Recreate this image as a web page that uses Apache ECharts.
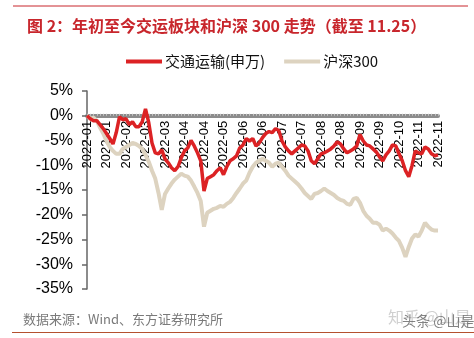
<!DOCTYPE html>
<html>
<head>
<meta charset="utf-8">
<script src="https://cdn.jsdelivr.net/npm/echarts@6/dist/echarts.min.js"></script>
<style>
  html, body { margin: 0; padding: 0; background: #fff; }
  #chart { width: 474px; height: 338px; }
</style>
</head>
<body>
<div id="chart"></div>
<script>
// Month tick labels, one for every 6 trading-day samples
const tickLabels = ['2022-01','2022-01','2022-02','2022-03','2022-03','2022-04','2022-04','2022-05',
  '2022-06','2022-06','2022-07','2022-07','2022-08','2022-08','2022-09','2022-09','2022-10','2022-11','2022-11'];
const step = 6;

// Cumulative return since year start (%)
const transport = [
  0, -0.6, -1.0, -1.0, -1.8, -2.6, -3.6, -4.6, -5.7, -3.4,
  -0.2, -0.8, -0.6, -1.8, -1.2, -2.2, -2.2, -1.2, 1.4, -1.4,
  -5.5, -7.5, -7.7, -6.9, -8.7, -9.5, -10.5, -11.1, -10.3, -8.5,
  -7.1, -6.5, -5.0, -6.1, -7.5, -9.1, -15.2, -12.7, -12.3, -11.9,
  -11.1, -10.5, -11.9, -10.3, -9.1, -8.7, -8.1, -6.5, -5.9, -4.6,
  -5.1, -4.6, -6.1, -5.5, -4.4, -3.6, -3.2, -3.4, -2.6, -3.0,
  -5.1, -6.3, -7.1, -7.7, -7.1, -6.5, -5.9, -6.1, -7.1, -9.1,
  -9.7, -8.7, -7.7, -7.5, -7.1, -6.7, -6.1, -5.3, -5.7, -6.7,
  -7.5, -7.1, -6.7, -6.1, -3.8, -5.1, -5.9, -6.1, -6.7, -7.3,
  -8.3, -9.1, -7.9, -7.1, -5.9, -6.1, -7.7, -9.1, -11.1, -12.3,
  -10.1, -7.1, -7.5, -7.7, -6.3, -6.7, -7.7, -8.1, -7.9
];
const hs300 = [
  0, -0.6, -0.4, -1.0, -2.4, -3.6, -5.1, -6.3, -7.1, -7.7,
  -7.7, -6.7, -6.3, -5.9, -5.5, -5.7, -6.1, -6.7, -7.9, -9.3,
  -11.1, -12.7, -15.6, -19.0, -15.8, -14.7, -13.7, -12.9, -12.3, -11.7,
  -12.1, -12.3, -13.1, -14.3, -15.6, -17.2, -22.4, -19.6, -19.2, -18.8,
  -18.6, -18.2, -18.4, -17.8, -17.4, -16.6, -15.6, -14.7, -13.7, -13.1,
  -11.5, -10.3, -9.5, -9.1, -8.7, -9.1, -9.5, -10.3, -9.7, -9.5,
  -10.3, -11.1, -12.1, -12.7, -13.3, -13.9, -14.7, -15.6, -16.2, -16.8,
  -15.8, -15.6, -15.2, -14.7, -15.2, -15.6, -16.0, -16.6, -17.0, -17.2,
  -17.8, -18.0, -16.8, -16.6, -17.6, -19.2, -20.2, -20.8, -21.6, -21.6,
  -22.0, -23.2, -22.8, -23.2, -23.8, -24.6, -25.3, -26.7, -28.5, -26.5,
  -24.8, -24.0, -24.4, -23.2, -21.6, -22.4, -23.0, -23.2, -23.2
];

const categories = transport.map((_, i) => tickLabels[Math.min(Math.floor(i / step), tickLabels.length - 1)]);

const yMin = -35, yMax = 5, yStep = 5;
const latin = '"Liberation Sans", Arial, "Noto Sans CJK SC", sans-serif';
const cjk = '"Noto Sans CJK SC", "Liberation Sans", sans-serif';

// Plot box and the pixel row of the 0% line inside it
const plotTop = 91, plotBottom = 49, plotHeight = 338 - plotTop - plotBottom;
const zeroOffset = plotHeight * (yMax - 0) / (yMax - yMin);

const chart = echarts.init(document.getElementById('chart'), null, { renderer: 'canvas' });
chart.setOption({
  animation: false,
  backgroundColor: '#fff',
  textStyle: { fontFamily: latin },
  title: {
    text: '图 2：年初至今交运板块和沪深 300 走势（截至 11.25）',
    left: 22, top: 13,
    textStyle: { color: '#c8262c', fontSize: 16, fontWeight: 'bold', fontFamily: cjk }
  },
  legend: {
    top: 49, left: 121,
    itemWidth: 36, itemHeight: 4, itemGap: 19,
    icon: 'rect',
    textStyle: { color: '#111', fontSize: 15, fontFamily: cjk, padding: [0, 0, 0, -2] },
    data: ['交通运输(申万)', '沪深300']
  },
  grid: [
    // main plot
    { left: 87, right: 36, top: plotTop, bottom: plotBottom, containLabel: false },
    // strip above the 0% line that carries the date axis
    { left: 87, right: 36, top: plotTop, height: zeroOffset, containLabel: false }
  ],
  xAxis: [
    {
      type: 'category', gridIndex: 0,
      data: categories,
      boundaryGap: false,
      axisLine: { show: false },
      axisTick: { show: false },
      axisLabel: { show: false },
      splitLine: { show: false }
    },
    {
      type: 'category', gridIndex: 1, position: 'bottom',
      data: categories,
      boundaryGap: false,
      axisLine: { lineStyle: { color: '#8c8c8c', width: 4 } },
      axisTick: { show: true, interval: 0, length: 2, inside: true, lineStyle: { color: '#c4c4c4', width: 1 } },
      axisLabel: {
        interval: step - 1, rotate: 90, margin: 5,
        color: '#000', fontSize: 13, fontFamily: latin
      },
      splitLine: { show: false }
    }
  ],
  yAxis: [
    {
      type: 'value', gridIndex: 0,
      min: yMin, max: yMax, interval: yStep,
      axisLine: { show: true, onZero: false, lineStyle: { color: '#666', width: 1.5 } },
      axisTick: { show: true, length: 5, lineStyle: { color: '#666', width: 1.5 } },
      axisLabel: { formatter: '{value}%', color: '#000', fontSize: 16, margin: 14, fontFamily: latin },
      splitLine: { show: false }
    },
    {
      type: 'value', gridIndex: 1, min: 0, max: 1,
      show: false
    }
  ],
  series: [
    {
      name: '交通运输(申万)', type: 'line', data: transport,
      xAxisIndex: 0, yAxisIndex: 0,
      showSymbol: false, z: 4,
      itemStyle: { color: '#dc2224' },
      lineStyle: { color: '#dc2224', width: 3.5 }
    },
    {
      name: '沪深300', type: 'line', data: hs300,
      xAxisIndex: 0, yAxisIndex: 0,
      showSymbol: false, z: 3,
      itemStyle: { color: '#ddd3c0' },
      lineStyle: { color: '#ddd3c0', width: 4 }
    }
  ],
  graphic: [
    { type: 'line', shape: { x1: 13, y1: 6, x2: 468, y2: 6 }, style: { stroke: '#c8262c', lineWidth: 1 } },
    { type: 'line', shape: { x1: 12, y1: 332.5, x2: 474, y2: 332.5 }, style: { stroke: '#b5502e', lineWidth: 1.2 } },
    { type: 'text', left: 23, top: 313,
      style: { text: '数据来源：Wind、东方证券研究所', fill: '#7a7a7a', font: '13px ' + cjk } },
    { type: 'text', left: 388, top: 309,
      style: { text: '知乎 @山是', fill: 'rgba(170,170,170,0.55)', font: '16px ' + cjk } },
    { type: 'text', left: 402, top: 314,
      style: { text: '头条 @山是', fill: 'rgba(90,90,90,0.75)', font: '14px ' + cjk } }
  ]
});
</script>
</body>
</html>
